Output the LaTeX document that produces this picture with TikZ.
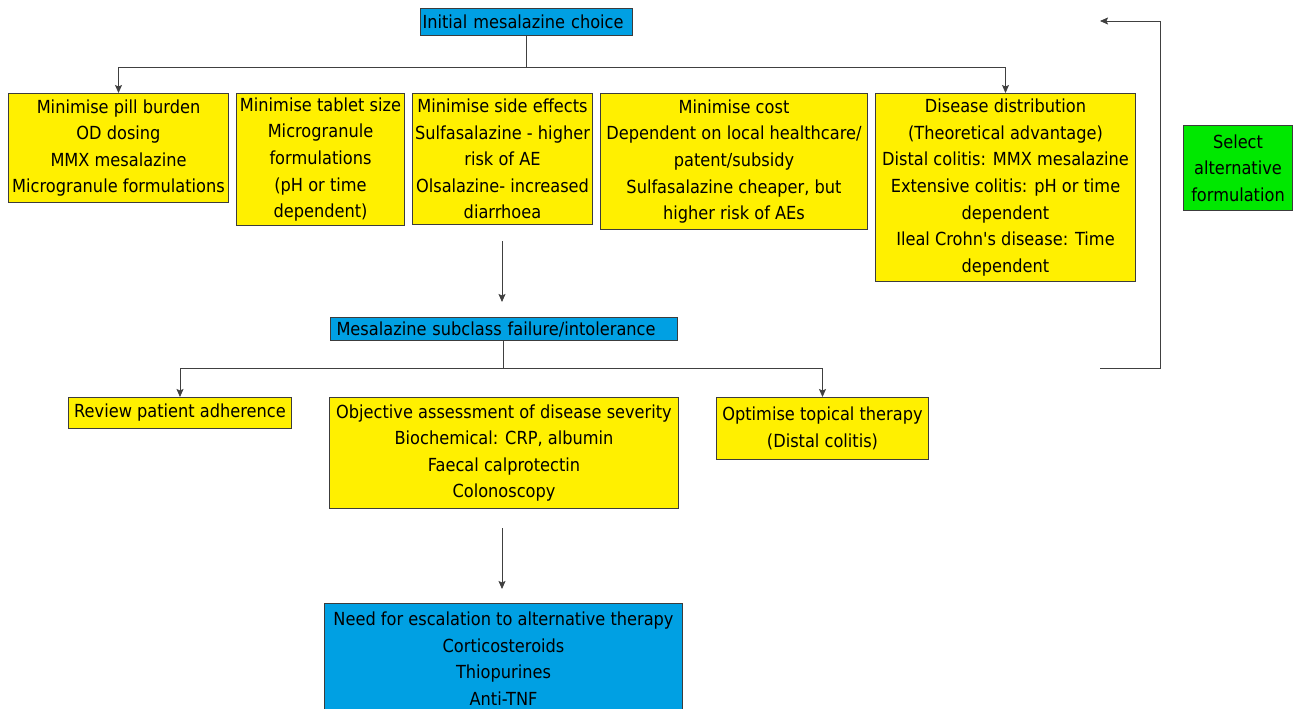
\documentclass[tikz,border=0pt]{standalone}
\usepackage{fontspec}
\setmainfont{DejaVu Sans}[FakeStretch=0.9]
\newfontfamily\plainf{DejaVu Sans}[FakeStretch=0.9]
\usetikzlibrary{arrows.meta}
\definecolor{cblue}{RGB}{0,160,227}
\definecolor{cyel}{RGB}{255,240,0}
\definecolor{cgreen}{RGB}{0,232,0}
\definecolor{cbord}{RGB}{60,60,60}
\begin{document}
\begin{tikzpicture}[x=1pt,y=-1pt,
  box/.style={draw=cbord, line width=1pt, anchor=north west, inner sep=0pt, align=center,
    font=\plainf\fontsize{18}{26.6}\selectfont},
  ybox/.style={box, fill=cyel},
  bbox/.style={box, fill=cblue},
  gbox/.style={box, fill=cgreen},
  lbox/.style={inner xsep=2pt, align=left},
  conn/.style={draw=black!75, line width=0.8pt},
  arr/.style={conn, -{Stealth[length=8pt,width=7pt,inset=1.5pt]}}]
\useasboundingbox (0,0) rectangle (1293,709);
\begin{scope}
\clip (0,0) rectangle (1293,709);
\node[bbox, lbox, text width=208pt, minimum height=27pt] (init) at (420,8) {Initial mesalazine choice};
\node[ybox, minimum width=220pt, minimum height=109pt] (b1) at (8,93) {Minimise pill burden\\OD dosing\\MMX mesalazine\\Microgranule formulations};
\node[ybox, minimum width=168pt, minimum height=132pt] (b2) at (236,93) {Minimise tablet size\\Microgranule\\formulations\\(pH or time\\dependent)};
\node[ybox, minimum width=180pt, minimum height=131pt] (b3) at (412,93) {Minimise side effects\\Sulfasalazine - higher\\risk of AE\\Olsalazine- increased\\diarrhoea};
\node[ybox, minimum width=267pt, minimum height=136pt] (b4) at (600,93) {Minimise cost\\Dependent on local healthcare/\\patent/subsidy\\Sulfasalazine cheaper, but\\higher risk of AEs};
\node[ybox, minimum width=260pt, minimum height=188pt] (b5) at (875,93) {Disease distribution\\(Theoretical advantage)\\Distal colitis: MMX mesalazine\\Extensive colitis: pH or time\\dependent\\Ileal Crohn's disease: Time\\dependent};
\node[gbox, minimum width=109pt, minimum height=85pt] (sel) at (1183,125) {Select\\alternative\\formulation};
\node[bbox, lbox, inner xsep=6pt, text width=335pt, minimum height=23pt] (sub) at (330,317) {Mesalazine subclass failure/intolerance};
\node[ybox, minimum width=223pt, minimum height=31pt] (rev) at (68,397) {Review patient adherence};
\node[ybox, minimum width=349pt, minimum height=111pt] (obj) at (329,397) {Objective assessment of disease severity\\Biochemical: CRP, albumin\\Faecal calprotectin\\Colonoscopy};
\node[ybox, minimum width=212pt, minimum height=62pt] (opt) at (716,397) {Optimise topical therapy\\(Distal colitis)};
\node[bbox, minimum width=358pt, minimum height=110pt] (need) at (324,603) {Need for escalation to alternative therapy\\Corticosteroids\\Thiopurines\\Anti-TNF};
\end{scope}
% connectors
\coordinate (j1) at (526,67);
\draw[conn] (init.south -| j1) -- (j1);
\draw[arr] (j1) -| (b1.north);
\draw[arr] (j1) -| (b5.north);
\coordinate (m1) at (502,241);
\coordinate (m2) at (502,302);
\draw[arr] (m1) -- (m2);
\coordinate (j2) at (503,368);
\draw[conn] (sub.south -| j2) -- (j2);
\draw[arr] (j2) -| (rev.north);
\draw[arr] (j2) -| (opt.north);
\coordinate (f1) at (1100,368);
\coordinate (f2) at (1160,368);
\coordinate (f3) at (1160,21);
\coordinate (f4) at (1100,21);
\draw[arr] (f1) -- (f2) -- (f3) -- (f4);
\coordinate (m3) at (502,528);
\coordinate (m4) at (502,589);
\draw[arr] (m3) -- (m4);
\end{tikzpicture}
\end{document}
